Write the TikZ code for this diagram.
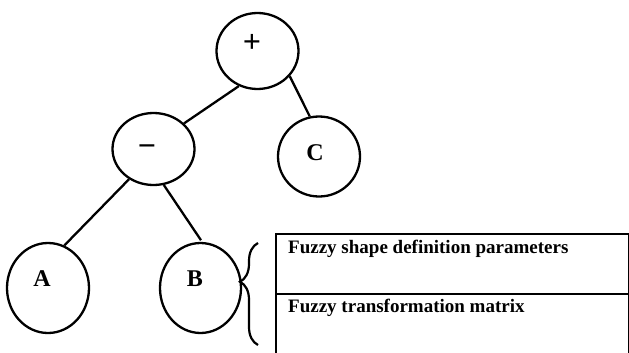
\documentclass[tikz,border=0pt]{standalone}
\usepackage{fontspec}
\setmainfont{Liberation Serif}
\usetikzlibrary{shapes.geometric,decorations.pathreplacing,calc}
\begin{document}
\begin{tikzpicture}[x=1pt,y=-1pt,
  tnode/.style={draw,ellipse,line width=2.3pt,inner sep=0pt,minimum width=82pt,minimum height=#1},
  tnode/.default=78pt,
  lab/.style={font=\fontsize{24}{24}\selectfont\bfseries,text=black,inner sep=0pt},
  oplab/.style={font=\fontsize{32}{32}\selectfont\bfseries,text=black,inner sep=0pt},
  row/.style={draw,line width=2pt,rectangle,anchor=north west,minimum width=353pt,minimum height=59.5pt,inner sep=0pt},
  rowtext/.style={anchor=base west,font=\fontsize{19}{19}\selectfont\bfseries,inner sep=0pt},
  conn/.style={line width=2.3pt}]
\useasboundingbox (0,0) rectangle (629,353);
\node[tnode=76pt] (plus) at (257.5,51) {};
\node[oplab] at (252,43) {+};
\node[tnode=72pt] (minus) at (153.5,149) {};
\node[oplab] at (147,151) {−};
\node[tnode=80pt] (C) at (319,156.5) {};
\node[lab] at (315,153) {C};
\node[tnode=90pt] (A) at (48,288) {};
\node[lab] at (42,279) {A};
\node[tnode=90pt,minimum width=81pt] (B) at (200.5,288) {};
\node[lab] at (195,279) {B};
\draw[conn] (plus.242) -- (minus.40);
\draw[conn] (plus.-38) -- (C.103);
\draw[conn] (minus.231) -- (A.69);
\draw[conn,shorten >=2pt] (minus.286) -- (B.88);
\node[row] (r1) at (275,233) {};
\node[row,minimum height=60pt] (r2) at (275,292.5) {};
\node[rowtext] (t1) at ($(r1.north west)+(13,20)$) {Fuzzy shape definition parameters};
\node[rowtext] (t2) at ($(r2.north west)+(13,20)$) {Fuzzy transformation matrix};
\coordinate (bb) at (258,345);
\coordinate (bt) at (258,243);
\draw[line width=2.2pt,decorate,decoration={brace,amplitude=18pt,aspect=0.62}] (bb) -- (bt);
\end{tikzpicture}
\end{document}
